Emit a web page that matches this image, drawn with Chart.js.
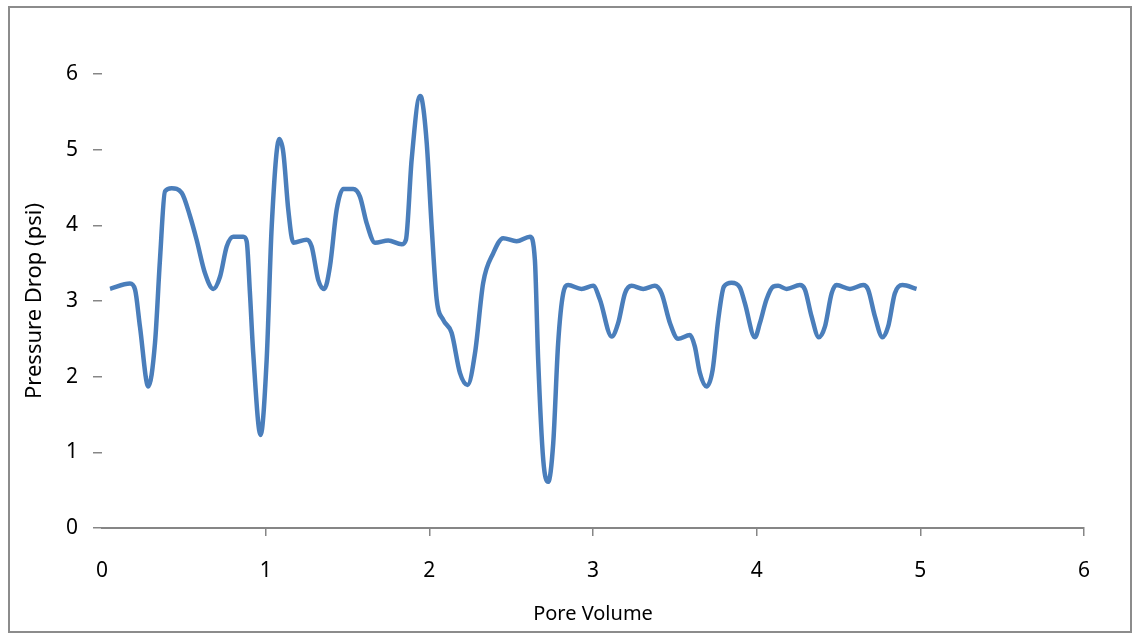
<!DOCTYPE html>
<html>
<head>
<meta charset="utf-8">
<script src="https://cdn.jsdelivr.net/npm/chart.js@4"></script>
<style>
    body { margin: 0; background: #fff; }
</style>
</head>
<body>
<canvas id="pressureChart" width="1132" height="633"></canvas>
<script>
// Pore volume (x) and pressure drop (y)
const poreVolume = [
    0.049, 0.171, 0.202, 0.232, 0.283, 0.324, 0.354, 0.385, 0.426, 0.487,
    0.538, 0.578, 0.629, 0.680, 0.721, 0.762, 0.802, 0.863, 0.884, 0.904,
    0.924, 0.969, 1.006, 1.037, 1.083, 1.108, 1.138, 1.169, 1.250, 1.281,
    1.321, 1.358, 1.393, 1.434, 1.474, 1.535, 1.576, 1.617, 1.668, 1.749,
    1.831, 1.857, 1.892, 1.943, 1.953, 1.984, 2.014, 2.045, 2.085, 2.136,
    2.187, 2.234, 2.279, 2.329, 2.390, 2.451, 2.533, 2.615, 2.645, 2.665,
    2.696, 2.726, 2.757, 2.787, 2.818, 2.848, 2.930, 3.001, 3.042, 3.114,
    3.154, 3.195, 3.236, 3.307, 3.378, 3.419, 3.470, 3.520, 3.592, 3.622,
    3.653, 3.694, 3.731, 3.765, 3.800, 3.847, 3.897, 3.928, 3.989, 4.020,
    4.060, 4.101, 4.131, 4.183, 4.264, 4.295, 4.335, 4.380, 4.417, 4.458,
    4.488, 4.570, 4.651, 4.681, 4.722, 4.769, 4.803, 4.844, 4.891, 4.977
];
const pressureDrop = [
    3.16, 3.23, 3.15, 2.66, 1.87, 2.45, 3.54, 4.45, 4.49, 4.43,
    4.12, 3.81, 3.37, 3.16, 3.32, 3.72, 3.85, 3.85, 3.79, 3.10,
    2.31, 1.23, 2.22, 3.99, 5.14, 4.96, 4.21, 3.77, 3.81, 3.72,
    3.28, 3.16, 3.46, 4.21, 4.48, 4.48, 4.38, 4.03, 3.77, 3.80,
    3.75, 3.81, 4.87, 5.71, 5.68, 5.09, 3.99, 3.02, 2.75, 2.58,
    2.05, 1.89, 2.31, 3.24, 3.63, 3.83, 3.79, 3.85, 3.54, 2.22,
    0.90, 0.61, 1.12, 2.44, 3.10, 3.21, 3.16, 3.20, 3.02, 2.53,
    2.71, 3.10, 3.20, 3.16, 3.20, 3.10, 2.71, 2.50, 2.55, 2.40,
    2.05, 1.87, 2.09, 2.75, 3.19, 3.24, 3.18, 2.97, 2.52, 2.71,
    3.02, 3.19, 3.20, 3.16, 3.21, 3.15, 2.80, 2.52, 2.66, 3.10,
    3.21, 3.16, 3.21, 3.15, 2.80, 2.52, 2.66, 3.10, 3.21, 3.16
];
const xTicks = [0, 1, 2, 3, 4, 5, 6];
const yTicks = [0, 1, 2, 3, 4, 5, 6];

const axisGray = '#868686';
const fontFamily = '"Noto Sans", "DejaVu Sans", sans-serif';

// Outer frame around the whole chart
const framePlugin = {
    id: 'frame',
    beforeDraw(chart) {
        const ctx = chart.ctx;
        ctx.save();
        ctx.fillStyle = '#ffffff';
        ctx.fillRect(0, 0, chart.width, chart.height);
        ctx.strokeStyle = '#8c8c8c';
        ctx.lineWidth = 2;
        ctx.strokeRect(9, 7, 1122, 625);
        ctx.restore();
    }
};

const points = poreVolume.map((x, i) => ({ x: x, y: pressureDrop[i] }));

const ctx = document.getElementById('pressureChart').getContext('2d');
const chart = new Chart(ctx, {
    type: 'line',
    data: {
        datasets: [{
            label: 'Pressure Drop',
            data: points,
            borderColor: '#4a7ebb',
            borderWidth: 4.5,
            pointRadius: 0,
            cubicInterpolationMode: 'monotone',
            fill: false
        }]
    },
    options: {
        responsive: false,
        animation: false,
        layout: {
            padding: { left: 14, top: 74, right: 48, bottom: 7 }
        },
        plugins: {
            legend: { display: false },
            tooltip: { enabled: false }
        },
        scales: {
            x: {
                type: 'linear',
                min: xTicks[0],
                max: xTicks[xTicks.length - 1],
                afterBuildTicks: (scale) => { scale.ticks = xTicks.map(v => ({ value: v })); },
                afterFit: (scale) => { scale.height = 633 - 7 - 528; },
                border: { display: true, color: axisGray, width: 2 },
                grid: {
                    drawOnChartArea: false,
                    tickLength: 8,
                    lineWidth: 1.5,
                    color: (c) => (c.index === 0 ? 'rgba(0,0,0,0)' : axisGray)
                },
                ticks: {
                    padding: 22,
                    color: '#000',
                    font: { family: fontFamily, size: 21 }
                },
                title: {
                    display: true,
                    text: 'Pore Volume',
                    color: '#000',
                    padding: 0,
                    font: { family: fontFamily, size: 20 }
                }
            },
            y: {
                min: yTicks[0],
                max: yTicks[yTicks.length - 1],
                afterBuildTicks: (scale) => { scale.ticks = yTicks.map(v => ({ value: v })); },
                afterFit: (scale) => { scale.width = 102 - 14; },
                border: { display: false },
                grid: {
                    drawOnChartArea: false,
                    tickLength: 9,
                    lineWidth: 1.5,
                    color: axisGray
                },
                ticks: {
                    padding: 15,
                    color: '#000',
                    font: { family: fontFamily, size: 21 }
                },
                title: {
                    display: true,
                    text: 'Pressure Drop (psi)',
                    color: '#000',
                    padding: { top: 8, bottom: 0 },
                    font: { family: fontFamily, size: 22 }
                }
            }
        }
    },
    plugins: [framePlugin]
});
</script>
</body>
</html>
